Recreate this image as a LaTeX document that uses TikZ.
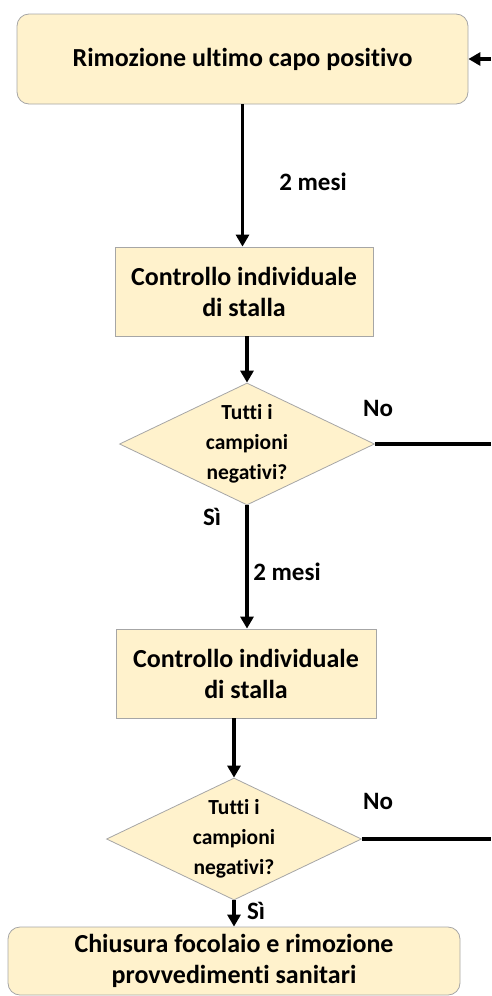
\documentclass[tikz,border=0pt]{standalone}
\usepackage{fontspec}
\setmainfont{Carlito}[Ligatures=NoCommon]
\usetikzlibrary{shapes.geometric,arrows.meta,positioning}
\definecolor{boxfill}{HTML}{FFF2CC}
\definecolor{boxline}{HTML}{A6A6A6}
\tikzset{
  stepbox/.style={draw=boxline,fill=boxfill,line width=0.8pt,align=center,inner sep=0pt,
    font=\fontsize{26}{31}\selectfont\bfseries},
  roundbox/.style={stepbox,rounded corners=12pt},
  testbox/.style={draw=boxline,fill=boxfill,line width=0.8pt,shape=diamond,aspect=2.1,inner sep=0pt,
    minimum width=255pt,minimum height=122pt,align=center,font=\fontsize{21.5}{30}\selectfont\bfseries},
  flow/.style={line width=3.5pt,-{Triangle[width=13pt,length=12pt]}},
  flowline/.style={line width=3.5pt},
  lbl/.style={font=\fontsize{25}{28}\selectfont\bfseries}
}
\begin{document}
\begin{tikzpicture}[x=1pt,y=-1pt]
\useasboundingbox (0,0) rectangle (491,996);
% boxes
\node[roundbox,minimum width=451pt,minimum height=90pt] (rimozione) at (242.5,59) {Rimozione ultimo capo positivo};
\node[stepbox,minimum width=258pt,minimum height=89pt] (controllo1) at (244,291.5) {Controllo individuale\\di stalla};
\node[testbox] (test1) at (247,444) {Tutti i\\campioni\\negativi?};
\node[stepbox,minimum width=260pt,minimum height=89pt] (controllo2) at (246,673.5) {Controllo individuale\\di stalla};
\node[testbox] (test2) at (234,839) {Tutti i\\campioni\\negativi?};
\node[roundbox,minimum width=452pt,minimum height=68pt] (chiusura) at (234,961) {Chiusura focolaio e rimozione\\provvedimenti sanitari};
% free ends at the right margin
\coordinate (ritorno) at (491,59);
\coordinate (no1) at (491,444);
\coordinate (no2) at (491,839);
% connectors
\draw[flow] (rimozione.south) -- (rimozione.south |- controllo1.north);
\draw[flow] (test1.north |- controllo1.south) -- (test1.north);
\draw[flow] (test1.south) -- (test1.south |- controllo2.north);
\draw[flow] (test2.north |- controllo2.south) -- (test2.north);
\draw[flow] (test2.south) -- (test2.south |- chiusura.north);
\draw[flowline] (test1.east) -- (no1);
\draw[flowline] (test2.east) -- (no2);
\draw[flow] (ritorno) -- (rimozione.east);
% labels
\node[lbl] (mesi1) at (313,182) {2 mesi};
\node[lbl] (mesi2) at (287,572) {2 mesi};
\node[lbl] (no1lbl) at (378,408) {No};
\node[lbl] (no2lbl) at (378,801) {No};
\node[lbl] (si1lbl) at (212,517) {Sì};
\node[lbl] (si2lbl) at (256,911) {Sì};
\end{tikzpicture}
\end{document}
